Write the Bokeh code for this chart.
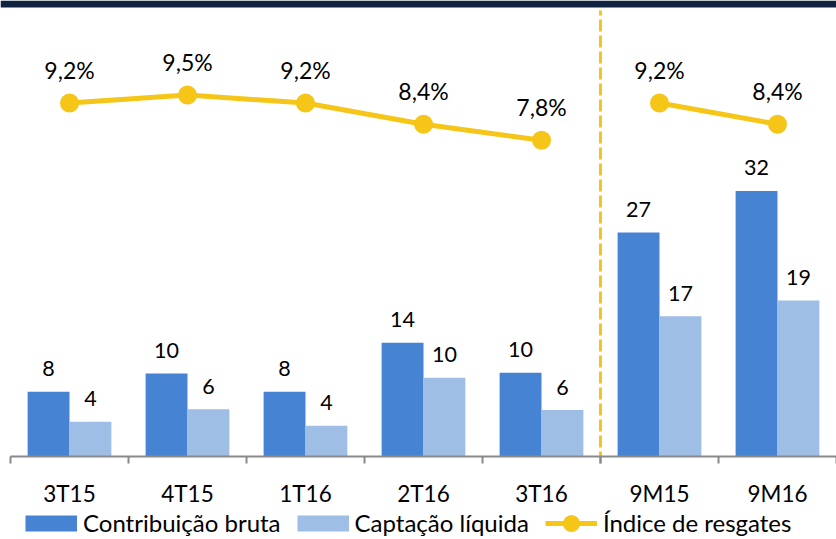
from bokeh.plotting import figure
from bokeh.models import (Range1d, FixedTicker, Legend, LegendItem,
                          ColumnDataSource, BoxAnnotation, LinearAxis)
from bokeh.transform import dodge
from bokeh.core.properties import value
from bokeh.embed import file_html
from bokeh.resources import INLINE

# ---------------- data ----------------
periodos = ["3T15", "4T15", "1T16", "2T16", "3T16", "9M15", "9M16"]
contribuicao_bruta = [7.8, 10.0, 7.8, 13.7, 10.1, 27.0, 32.0]
captacao_liquida = [4.2, 5.7, 3.7, 9.5, 5.6, 16.9, 18.8]
indice_resgates = [9.2, 9.5, 9.2, 8.4, 7.8, 9.2, 8.4]   # %
n_trimestres = 5   # first five are quarters, the last two are 9-month totals

# ---------------- styles ----------------
DARK = "#4684D3"
LIGHT = "#9EBEE6"
YELLOW = "#F5C518"
NAVY = "#0F2340"
AXIS = "#898989"
FONT = "Lato"

W, H = 836, 539
AXIS_Y = 456          # pixel row of the category axis
PX_CAT = 118.0
PX_BAR = 8.3          # px per unit (bars)
PX_PCT = 26.6         # px per % (line)
PCT_AT_AXIS = -4.09

x_start = -0.5 - 10 / PX_CAT
x_end = x_start + W / PX_CAT
y_min = -(H - AXIS_Y) / PX_BAR
y_max = AXIS_Y / PX_BAR
y2_min = PCT_AT_AXIS - (H - AXIS_Y) / PX_PCT
y2_max = PCT_AT_AXIS + AXIS_Y / PX_PCT

xs = list(range(len(periodos)))
src = ColumnDataSource(dict(
    x=xs,
    cb=contribuicao_bruta,
    cl=captacao_liquida,
    cb_lbl=[f"{v:.0f}" for v in contribuicao_bruta],
    cl_lbl=[f"{v:.0f}" for v in captacao_liquida],
))

p = figure(width=W, height=H, output_backend="svg", toolbar_location=None,
           x_range=Range1d(x_start, x_end), y_range=Range1d(y_min, y_max),
           x_axis_location=None, y_axis_location=None,
           min_border_left=0, min_border_right=0, min_border_top=0, min_border_bottom=0)
p.extra_y_ranges = {"pct": Range1d(y2_min, y2_max)}
p.outline_line_color = None
p.xgrid.visible = False
p.ygrid.visible = False
p.background_fill_color = "white"
p.border_fill_color = "white"

# header band
p.add_layout(BoxAnnotation(bottom=y_max - 7 / PX_BAR, top=y_max,
                           fill_color=NAVY, fill_alpha=1, line_alpha=0))

BW = 0.355
OFF = BW / 2
p.vbar(x=dodge("x", -OFF), top="cb", width=BW, source=src,
       fill_color=DARK, line_color=None)
p.vbar(x=dodge("x", OFF), top="cl", width=BW, source=src,
       fill_color=LIGHT, line_color=None)

for col, lbl, off in (("cb", "cb_lbl", -OFF), ("cl", "cl_lbl", OFF)):
    p.text(x=dodge("x", off), y=col, text=lbl, source=src, y_offset=-23,
           text_align="center", text_baseline="middle",
           text_font=value(FONT), text_font_size="21.5px", text_color="#000000")

# dashed separator between quarters and 9-month totals
sep = n_trimestres - 0.5
p.segment(x0=[sep], x1=[sep], y0=[-7 / PX_BAR], y1=[y_max - 10 / PX_BAR],
          line_color=YELLOW, line_width=3, line_dash="12 4")

# index line (two groups)
groups = [(0, n_trimestres), (n_trimestres, len(periodos))]
line_r = scat_r = None
for a, b in groups:
    s = ColumnDataSource(dict(x=xs[a:b], y=indice_resgates[a:b],
                              lbl=[f"{v:.1f}%".replace(".", ",") for v in indice_resgates[a:b]]))
    lr = p.line("x", "y", source=s, y_range_name="pct", line_color=YELLOW, line_width=5)
    sr = p.scatter("x", "y", source=s, y_range_name="pct", size=13, fill_color=YELLOW,
                   line_color=YELLOW, line_width=6)
    p.text("x", "y", text="lbl", source=s, y_range_name="pct", y_offset=-33,
           text_align="center", text_baseline="middle",
           text_font=value(FONT), text_font_size="23px", text_color="#000000")
    if line_r is None:
        line_r, scat_r = lr, sr

# x axis fixed at zero: labels at centres, ticks at boundaries
ax = LinearAxis(fixed_location=0)
ax.ticker = FixedTicker(ticks=xs, minor_ticks=[i - 0.5 for i in range(len(periodos) + 1)])
ax.major_label_overrides = {i: periodos[i] for i in xs}
ax.bounds = (-0.5, len(periodos) - 0.5)
ax.axis_line_color = AXIS
ax.axis_line_width = 2
ax.major_tick_in = 0
ax.major_tick_out = 0
ax.minor_tick_in = 0
ax.minor_tick_out = 7
ax.minor_tick_line_color = AXIS
ax.minor_tick_line_width = 2
ax.major_label_standoff = 16
ax.major_label_text_font = FONT
ax.major_label_text_font_size = "22.5px"
ax.major_label_text_color = "#000000"
p.add_layout(ax, "below")

# legend swatches: single-point lines (draw nothing in the plot, thick bar in the legend)
sw1 = p.line(x=xs[:1], y=contribuicao_bruta[:1], line_color=DARK, line_width=16)
sw2 = p.line(x=xs[:1], y=captacao_liquida[:1], line_color=LIGHT, line_width=16)
legend = Legend(items=[
    LegendItem(label="Contribuição bruta", renderers=[sw1]),
    LegendItem(label="Captação líquida", renderers=[sw2]),
    LegendItem(label="Índice de resgates", renderers=[line_r, scat_r]),
], orientation="horizontal", location=(25, 2), glyph_width=52, glyph_height=28,
    label_height=28, label_standoff=6, spacing=16, padding=0, margin=0,
    border_line_alpha=0, background_fill_alpha=0,
    label_text_font=FONT, label_text_font_size="24px", label_text_color="#000000")
p.add_layout(legend)

open("out.html", "w").write(file_html(p, INLINE))
